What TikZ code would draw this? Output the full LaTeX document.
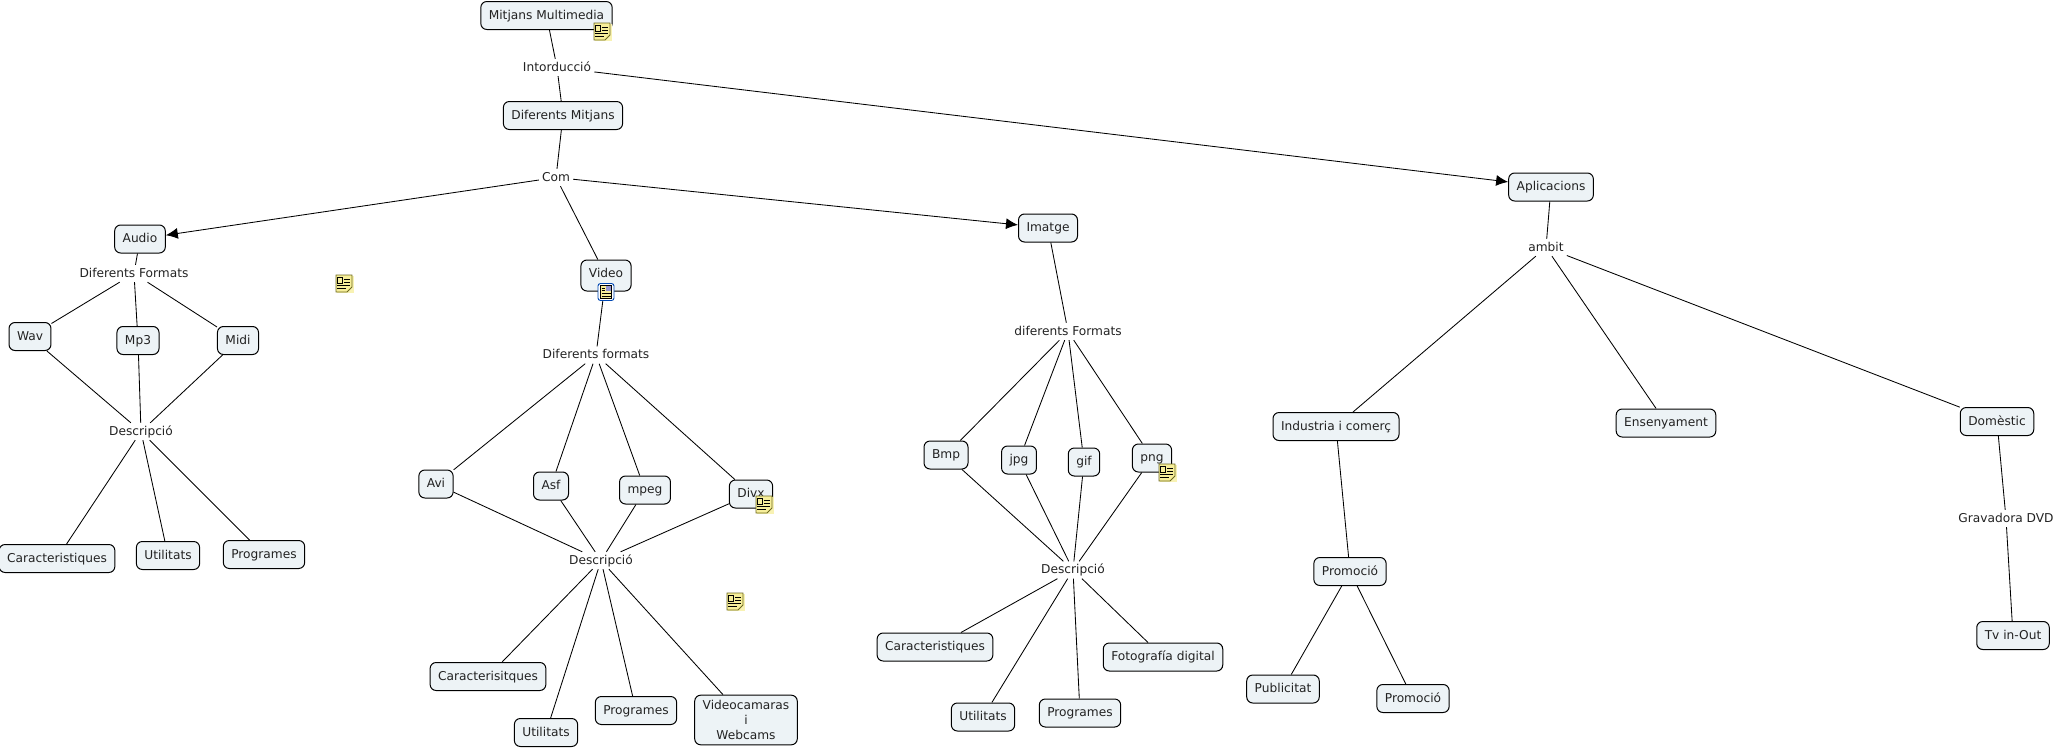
\documentclass[tikz,border=0pt]{standalone}
\usepackage{fontspec}
\setmainfont{DejaVu Sans}
\usetikzlibrary{arrows.meta}
\definecolor{boxfill}{HTML}{EDF3F6}
\definecolor{txt}{HTML}{222222}
\definecolor{notefill}{HTML}{F6EE9A}
\definecolor{noteedge}{HTML}{6E6A20}
\tikzset{
  x=1pt,y=-1pt,
  concept/.style={draw=black,line width=1pt,rounded corners=6pt,fill=boxfill,text=txt,font=\fontsize{12.2}{14.6}\selectfont,inner xsep=8pt,inner ysep=2pt,minimum height=28pt,align=center,text height=9.5pt,text depth=2.5pt},
  linker/.style={text=txt,font=\fontsize{12.2}{14.6}\selectfont,inner xsep=3pt,inner ysep=2.5pt,align=center,text height=9.5pt,text depth=2.5pt},
  conn/.style={draw=black,line width=0.85pt},
  arr/.style={conn,-{Latex[length=12pt,width=11pt]}},
  pics/noteicon/.style={code={
    \fill[notefill!75!white] (-7,-7) rectangle (10,10);
    \draw[noteedge,line width=0.9pt,fill=notefill] (-8,-8) -- (8,-8) -- (8,4) -- (3,9) -- (-8,9) -- cycle;
    \draw[black,line width=0.8pt] (-6.5,-6) rectangle (-1.5,0) (0,-3.5) -- (6,-3.5) (0,-1) -- (6,-1) (-7,2) -- (6,2) (-7,5) -- (2,5);
  }},
  pics/imgicon/.style={code={
    \draw[blue!60!cyan!70!black,line width=0.9pt,rounded corners=2.5pt,fill=white] (-8,-8.5) rectangle (8,8.5);
    \draw[black,line width=0.7pt,fill=notefill] (-5.5,-6.5) rectangle (5.5,6.5);
    \fill[gray!60!blue!60] (0,-6) rectangle (5,-1);
    \draw[black,line width=0.7pt] (-4.5,-4) -- (-1,-4) (-4.5,-1.5) -- (-1,-1.5) (-4.5,1.5) -- (4.5,1.5) (-4.5,4) -- (4.5,4);
  }}
}
\begin{document}
\begin{tikzpicture}
\useasboundingbox (0,0) rectangle (2057,750);
% concepts
\node[concept] (mm) at (546.5,15.5) {Mitjans Multimedia};
\node[concept] (dm) at (563,115.5) {Diferents Mitjans};
\node[concept] (audio) at (140,239) {Audio};
\node[concept,minimum height=31pt,text depth=5.5pt] (video) at (606,275.5) {Video};
\node[concept] (imatge) at (1048,228) {Imatge};
\node[concept] (aplic) at (1551,187) {Aplicacions};
\node[concept] (wav) at (30,336.5) {Wav};
\node[concept] (mp3) at (138,340.5) {Mp3};
\node[concept] (midi) at (238,340.5) {Midi};
\node[concept] (car1) at (57,558.5) {Caracteristiques};
\node[concept] (uti1) at (168,555.5) {Utilitats};
\node[concept] (pro1) at (264,554.5) {Programes};
\node[concept] (avi) at (436,484) {Avi};
\node[concept] (asf) at (551,486) {Asf};
\node[concept] (mpeg) at (645,490) {mpeg};
\node[concept] (divx) at (751,494) {Divx};
\node[concept] (car2) at (488,676.5) {Caracterisitques};
\node[concept] (uti2) at (546,732.5) {Utilitats};
\node[concept] (pro2) at (636,710.5) {Programes};
\node[concept,text height=,text depth=,inner ysep=5.5pt] (vid) at (746,720) {Videocamaras\\i\\Webcams};
\node[concept] (bmp) at (946,455) {Bmp};
\node[concept] (jpg) at (1019,460) {jpg};
\node[concept] (gif) at (1084,462) {gif};
\node[concept] (png) at (1152,458) {png};
\node[concept] (car3) at (935,647) {Caracteristiques};
\node[concept] (uti3) at (983,717) {Utilitats};
\node[concept] (pro3) at (1080,713) {Programes};
\node[concept] (foto) at (1163,657) {Fotografía digital};
\node[concept] (ind) at (1336,426.5) {Industria i comerç};
\node[concept] (ens) at (1666,423) {Ensenyament};
\node[concept] (dom) at (1997,421.5) {Domèstic};
\node[concept] (prom) at (1350,571.5) {Promoció};
\node[concept] (pub) at (1283,689) {Publicitat};
\node[concept] (prom2) at (1413,698.5) {Promoció};
\node[concept] (tv) at (2013,635.5) {Tv in-Out};
% linking phrases
\node[linker] (intro) at (557,67.5) {Intorducció};
\node[linker] (com) at (556,177.5) {Com};
\node[linker] (amb) at (1546,247.5) {ambit};
\node[linker] (df1) at (134,273.5) {Diferents Formats};
\node[linker] (de1) at (141,431.5) {Descripció};
\node[linker] (df2) at (596,355) {Diferents formats};
\node[linker] (de2) at (601,560.5) {Descripció};
\node[linker] (df3) at (1068,331.5) {diferents Formats};
\node[linker] (de3) at (1073,570) {Descripció};
\node[linker] (grav) at (2006,518.5) {Gravadora DVD};
% connectors
\draw[conn] (mm) -- (intro);
\draw[conn] (intro) -- (dm);
\draw[arr] (intro) -- (aplic);
\draw[conn] (dm) -- (com);
\draw[arr] (com) -- (audio);
\draw[conn] (com) -- (video);
\draw[arr] (com) -- (imatge);
\draw[conn] (audio) -- (df1);
\foreach \n in {wav,mp3,midi} {\draw[conn] (df1) -- (\n); \draw[conn] (\n) -- (de1);}
\foreach \n in {car1,uti1,pro1} {\draw[conn] (de1) -- (\n);}
\draw[conn] (video) -- (df2);
\foreach \n in {avi,asf,mpeg,divx} {\draw[conn] (df2) -- (\n); \draw[conn] (\n) -- (de2);}
\foreach \n in {car2,uti2,pro2,vid} {\draw[conn] (de2) -- (\n);}
\draw[conn] (imatge) -- (df3);
\foreach \n in {bmp,jpg,gif,png} {\draw[conn] (df3) -- (\n); \draw[conn] (\n) -- (de3);}
\foreach \n in {car3,uti3,pro3,foto} {\draw[conn] (de3) -- (\n);}
\draw[conn] (aplic) -- (amb);
\foreach \n in {ind,ens,dom} {\draw[conn] (amb) -- (\n);}
\draw[conn] (ind) -- (prom);
\draw[conn] (prom) -- (pub);
\draw[conn] (prom) -- (prom2);
\draw[conn] (dom) -- (grav);
\draw[conn] (grav) -- (tv);
% icons
\pic at (602,31) {noteicon};
\pic at (344,283) {noteicon};
\pic at (606,292) {imgicon};
\pic at (764,504) {noteicon};
\pic at (735,601) {noteicon};
\pic at (1167,472) {noteicon};
\end{tikzpicture}
\end{document}
